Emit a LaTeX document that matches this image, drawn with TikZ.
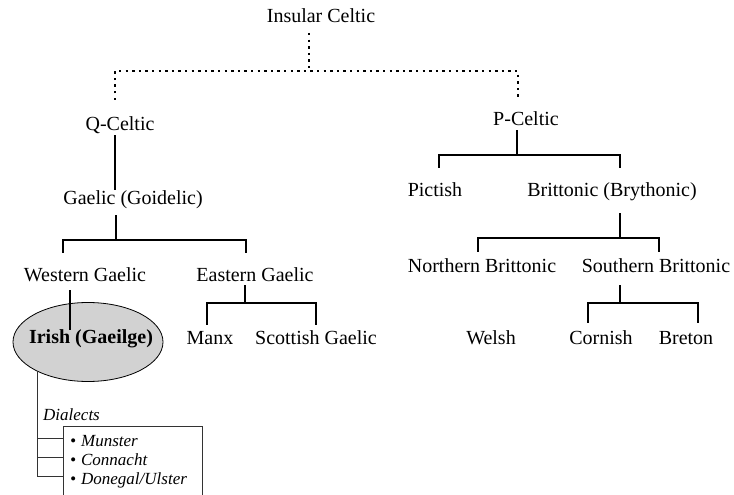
\documentclass[tikz,border=0pt]{standalone}
\usepackage{fontspec}
\setmainfont{Liberation Serif}
\usetikzlibrary{shapes.geometric}

\tikzset{
  lang/.style={inner sep=0pt, anchor=south, text height=13pt, text depth=0pt, font=\fontsize{20}{24}\selectfont},
  langbold/.style={lang, font=\fontsize{20}{24}\selectfont\bfseries},
  dialect/.style={inner sep=0pt, anchor=west, text height=16pt, text depth=0pt, font=\fontsize{17}{20}\selectfont\itshape},
  oval/.style={ellipse, draw, line width=0.8pt, fill=gray!35, inner sep=0pt, minimum width=150pt, minimum height=79pt},
  tree/.style={line width=1.8pt},
  thintree/.style={line width=0.9pt, black!80},
  dotline/.style={line width=2.4pt, dash pattern=on 2.4pt off 4.2pt},
}

\begin{document}
\begin{tikzpicture}[x=1pt, y=-1pt]
    \useasboundingbox (0,0) rectangle (734,495);

    % languages
    \node[lang] (insular) at (321,23) {Insular Celtic};
    \node[lang] (qceltic) at (120,131) {Q-Celtic};
    \node[lang] (pceltic) at (526,126) {P-Celtic};
    \node[lang] (gaelic) at (133,205) {Gaelic (Goidelic)};
    \node[lang] (pictish) at (435,197) {Pictish};
    \node[lang] (brittonic) at (612,197) {Brittonic (Brythonic)};
    \node[lang] (western) at (85,282) {Western Gaelic};
    \node[lang] (eastern) at (255,282) {Eastern Gaelic};
    \node[lang] (northern) at (482,273) {Northern Brittonic};
    \node[lang] (southern) at (656,273) {Southern Brittonic};
    \node[oval] (irish) at (88,342) {};
    \node[langbold] (irishtext) at (91,344) {Irish (Gaeilge)};
    \node[lang] (manx) at (210,345) {Manx};
    \node[lang] (scottish) at (316,345) {Scottish Gaelic};
    \node[lang] (welsh) at (491,345) {Welsh};
    \node[lang] (cornish) at (601,345) {Cornish};
    \node[lang] (breton) at (686,345) {Breton};

    % dialects
    \node[dialect, anchor=base west] (dialects) at (43,420) {Dialects};
    \node[draw, thintree, anchor=north west, inner sep=0pt, minimum width=139pt, minimum height=90pt] (dialbox) at (63,426) {};
    \node[dialect] (munster) at (70,438) {\textbullet\hspace{5pt}Munster};
    \node[dialect] (connacht) at (70,457) {\textbullet\hspace{5pt}Connacht};
    \node[dialect] (donegal) at (70,476) {\textbullet\hspace{5pt}Donegal/Ulster};

    % Insular Celtic
    \coordinate (root) at (309,71);
    \coordinate (qtop) at (115,100);
    \coordinate (ptop) at (518,100);
    \draw[dotline, shorten <=10pt] (insular.south -| root) -- (root);
    \draw[dotline] (qtop) |- (root) -| (ptop);

    % Q-Celtic branch
    \draw[tree, shorten <=4pt, shorten >=2pt] (qceltic.south -| qtop) -- (gaelic.north -| qtop);
    \coordinate (gbar) at (116,240);
    \draw[tree, shorten <=10pt] (gaelic.south -| gbar) -- (gbar);
    \draw[tree, shorten <=16pt, shorten >=16pt] (western.north -| 63,0) |- (gbar) -| (eastern.north -| 246,0);
    \draw[tree, shorten <=8pt, shorten >=1pt] (western.south -| 70,0) -- (irishtext.north -| 70,0);
    \coordinate (ebar) at (245,303);
    \draw[tree, shorten <=3pt] (eastern.south -| ebar) -- (ebar);
    \draw[tree, shorten <=7pt, shorten >=7pt] (manx.north -| 207,0) |- (ebar) -| (scottish.north -| 316,0);

    % P-Celtic branch
    \coordinate (pbar) at (517,155);
    \draw[tree, shorten <=4pt] (pceltic.south -| pbar) -- (pbar);
    \draw[tree, shorten <=16pt, shorten >=16pt] (pictish.north -| 439,0) |- (pbar) -| (brittonic.north -| 620,0);
    \coordinate (bbar) at (620,238);
    \draw[tree, shorten <=16pt] (brittonic.south -| bbar) -- (bbar);
    \draw[tree, shorten <=8pt, shorten >=8pt] (northern.north -| 478,0) |- (bbar) -| (southern.north -| 659,0);
    \coordinate (sbar) at (620,303);
    \draw[tree, shorten <=12pt] (southern.south -| sbar) -- (sbar);
    \draw[tree, shorten <=9pt, shorten >=9pt] (cornish.north -| 588,0) |- (sbar) -| (breton.north -| 698,0);

    % Irish dialects
    \draw[thintree] (irish.210) -- (irish.210 |- donegal.west);
    \draw[thintree] (munster.west -| irish.210) -- (munster.west -| dialbox.west);
    \draw[thintree] (connacht.west -| irish.210) -- (connacht.west -| dialbox.west);
    \draw[thintree] (donegal.west -| irish.210) -- (donegal.west -| dialbox.west);
\end{tikzpicture}
\end{document}
